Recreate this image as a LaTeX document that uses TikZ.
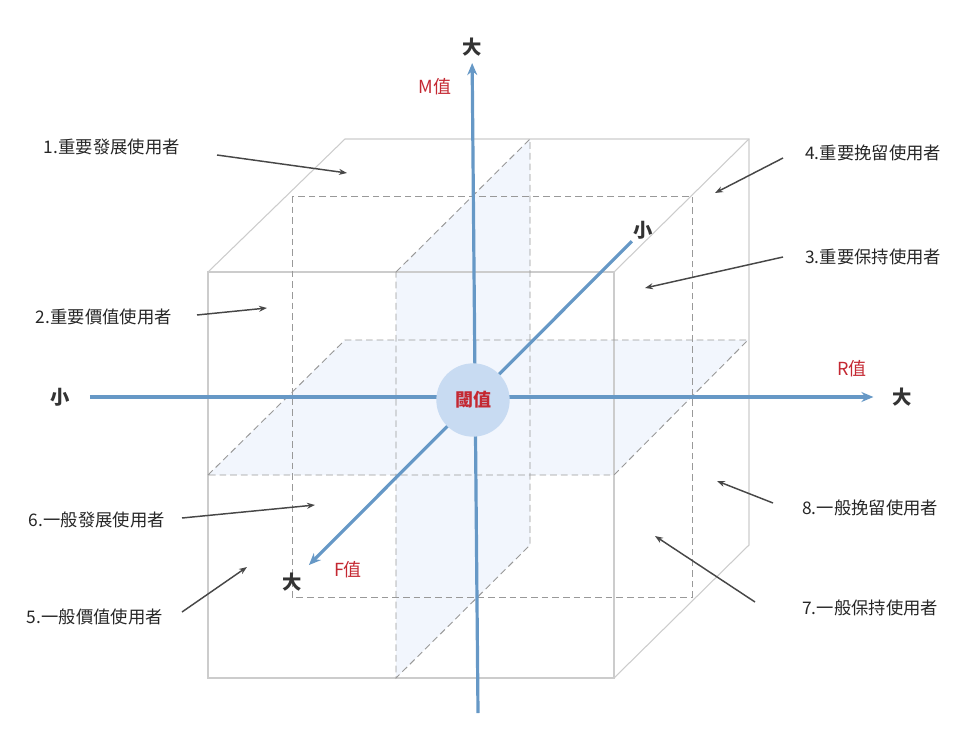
\documentclass[tikz,border=0pt]{standalone}
\usepackage{fontspec}
\newfontfamily\cjk{Noto Sans CJK TC}
\usepackage{xcolor}
\usepackage{tikz}
\usetikzlibrary{arrows.meta}
\definecolor{axisblue}{RGB}{102,152,198}
\definecolor{valred}{RGB}{196,40,50}
\definecolor{planeblue}{RGB}{242,246,253}
\definecolor{nodeblue}{RGB}{200,219,242}

\begin{document}
\begin{tikzpicture}[x=0.75pt, y=-0.75pt,
  every node/.style={font=\cjk, inner sep=0pt},
  edge/.style={draw=black!20, line width=0.8pt},
  hidden/.style={draw=black!40, line width=0.7pt, dash pattern=on 5pt off 3pt},
  plane/.style={fill=planeblue},
  axis/.style={draw=axisblue, line width=2.4pt, -{Stealth[length=9pt, width=7.5pt]}},
  pointer/.style={draw=black!72, line width=1.1pt, -{Stealth[length=6pt, width=4.5pt]}},
  ends/.style={font=\cjk\bfseries\fontsize{14.5}{15}\selectfont, text=black!80},
  axname/.style={font=\cjk\fontsize{13.5}{14}\selectfont, text=valred},
  segment/.style={font=\cjk\fontsize{13}{14}\selectfont, text=black!85}]
  \useasboundingbox (0,0) rectangle (970,753);

  % Threshold planes (shaded)
  \fill[plane] (396,272) -- (530,139) -- (530,545) -- (396,678) -- cycle;
  \fill[plane] (208,475) -- (345,340) -- (748,340) -- (614,475) -- cycle;

  % Outer cube
  \draw[edge] (208,272) rectangle (614,678);
  \draw[edge] (208,272) -- (345,139) -- (749,139) -- (749,545) -- (614,678);
  \draw[edge] (614,272) -- (749,139);

  % Hidden lines
  \draw[hidden] (292,196) rectangle (692,597);
  \draw[hidden] (396,272) -- (530,139) -- (530,545) -- (396,678) -- cycle;
  \draw[hidden] (208,475) -- (345,340) -- (748,340) -- (614,475) -- cycle;

  % Axis ends
  \node[ends] (rmin) at (60,397) {小};
  \node[ends] (rmax) at (902,397) {大};
  \node[ends] (mmax) at (472,47) {大};
  \node[ends] (fmin) at (643,230) {小};
  \node[ends] (fmax) at (292,582) {大};
  \coordinate (mbot) at (478,713);

  % Axes
  \draw[axis, shorten <=15pt, shorten >=14pt] (rmin) -- (rmax);
  \draw[axis, shorten >=5pt] (mbot) -- (mmax);
  \draw[axis, shorten <=2pt, shorten >=8pt] (fmin) -- (fmax);

  % Axis names
  \node[axname] (mname) at (435,87) {M值};
  \node[axname] (rname) at (852,369) {R值};
  \node[axname] (fname) at (348,570) {F值};

  % Threshold
  \node[circle, fill=nodeblue, minimum size=55pt, text=valred,
        font=\cjk\bfseries\fontsize{13.5}{14}\selectfont] (thr) at (473,400) {閾值};

  % Segment labels
  \node[segment, anchor=east] (seg1) at (180,147) {1.重要發展使用者};
  \node[segment, anchor=east] (seg2) at (172,317) {2.重要價值使用者};
  \node[segment, anchor=west] (seg3) at (805,257) {3.重要保持使用者};
  \node[segment, anchor=west] (seg4) at (805,153) {4.重要挽留使用者};
  \node[segment, anchor=east] (seg5) at (163,617) {5.一般價值使用者};
  \node[segment, anchor=east] (seg6) at (165,520) {6.一般發展使用者};
  \node[segment, anchor=west] (seg7) at (802,608) {7.一般保持使用者};
  \node[segment, anchor=west] (seg8) at (802,508) {8.一般挽留使用者};

  % Pointer targets
  \coordinate (tip1) at (347,173);
  \coordinate (tip2) at (267,308);
  \coordinate (tip3) at (645,288);
  \coordinate (tip4) at (715,193);
  \coordinate (tip5) at (247,567);
  \coordinate (tip6) at (315,505);
  \coordinate (tip7) at (655,536);
  \coordinate (tip8) at (717,481);

  % Pointers
  \draw[pointer] ([shift={(37,8)}]seg1.east) -- (tip1);
  \draw[pointer] ([shift={(25,-2)}]seg2.east) -- (tip2);
  \draw[pointer] ([shift={(-22,0)}]seg3.west) -- (tip3);
  \draw[pointer] ([shift={(-22,5)}]seg4.west) -- (tip4);
  \draw[pointer] ([shift={(19,-5)}]seg5.east) -- (tip5);
  \draw[pointer] ([shift={(17,-2)}]seg6.east) -- (tip6);
  \draw[pointer] ([shift={(-47,-6)}]seg7.west) -- (tip7);
  \draw[pointer] ([shift={(-29,-5)}]seg8.west) -- (tip8);
\end{tikzpicture}
\end{document}
